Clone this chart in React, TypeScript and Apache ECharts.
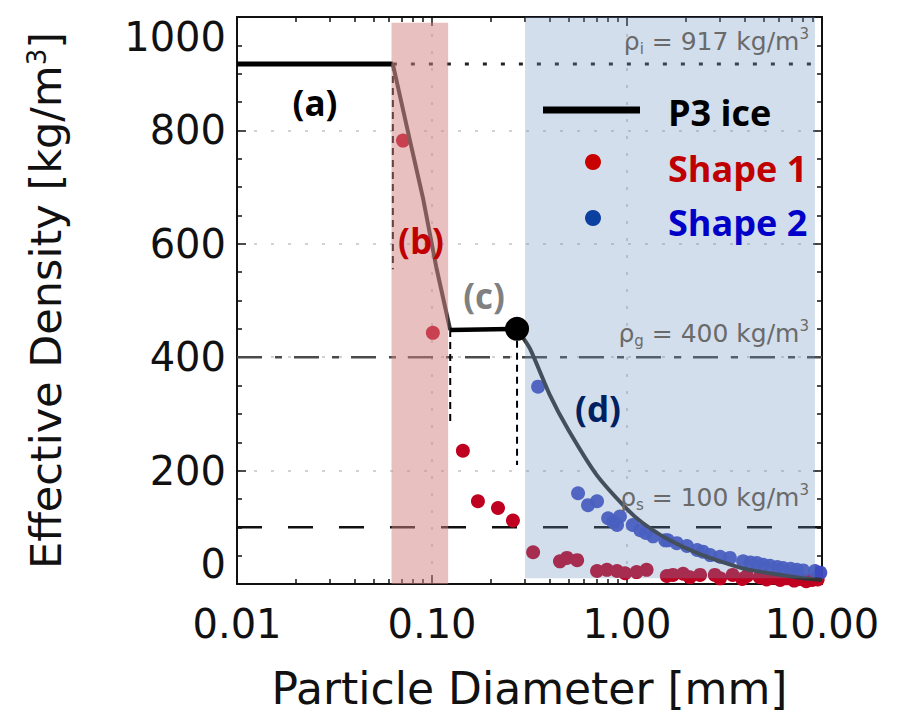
import React, { useEffect, useRef } from "react";
import * as echarts from "echarts";

// ---- Data ----
const xTickLabels = ["0.01", "0.10", "1.00", "10.00"];
const yTickValues = [0, 200, 400, 600, 800, 1000];

// P3 ice effective density, by regime
const p3RegimeA = [[0.01, 917], [0.063, 917]];
const p3RegimeB = [[0.063, 917], [0.075, 800], [0.09, 680], [0.105, 560], [0.124, 448]];
const p3RegimeC = [[0.124, 448], [0.273, 450]];
const p3RegimeD = [
  [0.273, 450], [0.318, 415], [0.4, 335], [0.5, 272], [0.7, 192], [1.0, 132],
  [1.2, 108], [1.6, 80], [2.4, 52], [4.0, 27], [7.7, 11], [10, 7],
];
const regimeDot = [[0.273, 450]];

// Vertical dashed drop lines: [diameter, top density, bottom density]
const dropLines = [[0.063, 917, 555], [0.124, 448, 280], [0.273, 450, 210]];

// Reference densities
const rhoIce = 917;
const rhoGraupel = 400;
const rhoSnow = 100;

// Regime shading [xFrom, xTo, yFrom, yTo]
const pinkBand = [0.062, 0.121, 0, 990];
const blueBand = [0.3, 9.2, 10, 1000];

// Shape 1 (red) and Shape 2 (blue) points
const shape1 = [
  [0.071, 782], [0.101, 443], [0.144, 235], [0.172, 146], [0.218, 134], [0.26, 112],
  [0.33, 56], [0.453, 40], [0.492, 46], [0.555, 42], [0.702, 23], [0.789, 25],
  [0.889, 23], [0.977, 19], [1.12, 21], [1.26, 25], [1.6, 14], [1.72, 16], [1.94, 18],
  [2.1, 12], [2.37, 16], [2.82, 16], [3.0, 10], [3.48, 16], [3.9, 9], [4.12, 14],
  [4.79, 12], [5.2, 8], [5.6, 11], [6.1, 7], [6.6, 10], [7.2, 6], [7.71, 9],
  [8.3, 5], [8.9, 7], [9.5, 8],
];
const shape2 = [
  [0.35, 348], [0.561, 160], [0.631, 139], [0.702, 146], [0.8, 116], [0.85, 110],
  [0.889, 104], [0.92, 119], [1.07, 104], [1.17, 95], [1.25, 90], [1.36, 84],
  [1.57, 77], [1.62, 77], [1.8, 72], [2.03, 67], [2.29, 60], [2.45, 57], [2.67, 51],
  [3.0, 48], [3.37, 46], [3.94, 40], [4.3, 38], [4.64, 37], [5.0, 34], [5.41, 32],
  [5.9, 30], [6.31, 28], [6.9, 27], [7.44, 25], [8.0, 24], [9.2, 23], [9.8, 20],
];

const FONT = "DejaVu Sans";
const BOLD = "Open Sans";

export default function App() {
  const ref = useRef<HTMLDivElement>(null);

  useEffect(() => {
    document.body.style.margin = "0";
    const chart = echarts.init(ref.current!, null, { renderer: "svg" });

    const minorLog: number[] = [];
    [-2, -1, 0].forEach((d) => {
      for (let k = 2; k <= 9; k++) minorLog.push(d + Math.log10(k));
    });

    const axisLineStyle = { color: "#111", width: 2 };
    const tickStyle = { color: "#111", width: 1.5 };
    const gridStyle = { color: "#c4c4c4", width: 1.5, type: [3, 14] as any };

    const bandSeries = (band: number[], fill: string) => ({
      type: "custom",
      z: 10,
      silent: true,
      xAxisIndex: 0,
      yAxisIndex: 0,
      data: [band],
      encode: { x: [0, 1], y: [2, 3] },
      renderItem: (params: any, api: any) => {
        const p0 = api.coord([api.value(0), api.value(3)]);
        const p1 = api.coord([api.value(1), api.value(2)]);
        return {
          type: "rect",
          shape: { x: p0[0], y: p0[1], width: p1[0] - p0[0], height: p1[1] - p0[1] },
          style: { fill },
        };
      },
    });

    const lineSeries = (data: number[][], color: string, width: number, type: any, z = 3, smooth: any = false) => ({
      type: "line",
      data,
      symbol: "none",
      smooth,
      z,
      silent: true,
      xAxisIndex: 0,
      yAxisIndex: 0,
      lineStyle: { color, width, type, cap: "butt" },
    });

    const rich = {
      m: { fontFamily: FONT, fontSize: 25, fill: "#6a6a6a", lineHeight: 30 },
      s: { fontFamily: FONT, fontSize: 15, fill: "#6a6a6a", verticalAlign: "bottom", lineHeight: 14 },
      p: { fontFamily: FONT, fontSize: 15, fill: "#6a6a6a", verticalAlign: "top", lineHeight: 14 },
    };

    const option: any = {
      animation: false,
      grid: { left: 237, right: 80, top: 17, bottom: 129, containLabel: false },
      xAxis: [
        {
          type: "log",
          logBase: 10,
          min: 0.01,
          max: 10,
          position: "bottom",
          axisLine: { show: true, onZero: false, lineStyle: axisLineStyle },
          axisTick: { show: true, inside: true, length: 9, lineStyle: tickStyle },
          axisLabel: {
            show: true,
            margin: 20,
            fontFamily: FONT,
            fontSize: 40,
            color: "#111",
            formatter: (v: number) => {
              const i = Math.round(Math.log10(v)) + 2;
              return xTickLabels[i] ?? Number(v).toFixed(2);
            },
          },
          splitLine: { show: true, lineStyle: gridStyle },
          name: "Particle Diameter [mm]",
          nameLocation: "middle",
          nameGap: 82,
          nameTextStyle: { fontFamily: FONT, fontSize: 44, color: "#111" },
        },
        {
          type: "log",
          logBase: 10,
          min: 0.01,
          max: 10,
          position: "top",
          axisLine: { show: true, onZero: false, lineStyle: axisLineStyle },
          axisTick: { show: true, inside: true, length: 9, lineStyle: tickStyle },
          axisLabel: { show: false },
          splitLine: { show: false },
        },
        {
          type: "value",
          min: -2,
          max: 1,
          position: "bottom",
          axisLine: { show: false, onZero: false },
          axisTick: { show: true, inside: true, length: 5, lineStyle: tickStyle, customValues: minorLog },
          axisLabel: { show: false },
          splitLine: { show: false },
        },
        {
          type: "value",
          min: -2,
          max: 1,
          position: "top",
          axisLine: { show: false, onZero: false },
          axisTick: { show: true, inside: true, length: 5, lineStyle: tickStyle, customValues: minorLog },
          axisLabel: { show: false },
          splitLine: { show: false },
        },
      ],
      yAxis: [
        {
          type: "value",
          min: yTickValues[0],
          max: yTickValues[yTickValues.length - 1],
          interval: 200,
          position: "left",
          axisLine: { show: true, onZero: false, lineStyle: axisLineStyle },
          axisTick: { show: true, inside: true, length: 9, lineStyle: tickStyle },
          minorTick: { show: true, splitNumber: 4, length: 5, lineStyle: tickStyle },
          axisLabel: {
            margin: 11,
            fontFamily: FONT,
            fontSize: 40,
            color: "#111",
            formatter: (v: number) => String(v),
            verticalAlignMinLabel: "bottom",
            verticalAlignMaxLabel: "top",
          },
          splitLine: { show: true, lineStyle: gridStyle },
          name: "Effective Density [kg/m{sup|3}]",
          nameLocation: "middle",
          nameRotate: 90,
          nameGap: 170,
          nameTextStyle: {
            fontFamily: FONT,
            fontSize: 43,
            color: "#111",
            rich: {
              sup: { fontFamily: FONT, fontSize: 26, color: "#111", verticalAlign: "top", lineHeight: 43 },
            },
          },
        },
        {
          type: "value",
          min: 0,
          max: 1000,
          interval: 200,
          position: "right",
          axisLine: { show: true, onZero: false, lineStyle: axisLineStyle },
          axisTick: { show: true, inside: true, length: 9, lineStyle: tickStyle },
          minorTick: { show: true, splitNumber: 4, length: 5, lineStyle: tickStyle },
          axisLabel: { show: false },
          splitLine: { show: false },
        },
      ],
      series: [
        // reference density lines
        lineSeries([[p3RegimeA[1][0], rhoIce], [10, rhoIce]], "#222", 3, [4, 14], 3),
        lineSeries([[0.01, rhoGraupel], [10, rhoGraupel]], "#4a4a4a", 2.5, [25, 13, 7, 12], 3),
        lineSeries([[0.01, rhoSnow], [10, rhoSnow]], "#111", 2.5, [25, 26], 3),
        // drop lines
        ...dropLines.map((d) => lineSeries([[d[0], d[1]], [d[0], d[2]]], "#000", 2, [7, 5], 3)),
        // scatter
        {
          type: "scatter",
          name: "Shape 1",
          data: shape1,
          symbolSize: 14,
          z: 4,
          silent: true,
          itemStyle: { color: "#c00020", opacity: 1 },
        },
        {
          type: "scatter",
          name: "Shape 2",
          data: shape2,
          symbolSize: 14,
          z: 5,
          silent: true,
          itemStyle: { color: "#3d4bc0", opacity: 0.95 },
        },
        // P3 ice
        { ...lineSeries(p3RegimeA, "#000", 5, "solid", 6), name: "P3 ice" },
        lineSeries(p3RegimeB, "#333", 4, "solid", 6),
        lineSeries(p3RegimeC, "#000", 4.5, "solid", 6),
        lineSeries(p3RegimeD, "#333", 4, "solid", 6, 0.2),
        // shading
        bandSeries(pinkBand, "rgba(210,130,130,0.5)"),
        bandSeries(blueBand, "rgba(105,145,192,0.3)"),
        // regime transition dot
        {
          type: "scatter",
          data: regimeDot,
          symbolSize: 24,
          z: 12,
          silent: true,
          itemStyle: { color: "#000", opacity: 1 },
        },
      ],
      graphic: [
        // reference labels
        {
          type: "text", z: 100,
          style: { x: 809, y: 41, align: "right", verticalAlign: "middle", text: "{m|ρ}{s|i}{m| = 917 kg/m}{p|3}", rich },
        },
        {
          type: "text", z: 100,
          style: { x: 809, y: 333, align: "right", verticalAlign: "middle", text: "{m|ρ}{s|g}{m| = 400 kg/m}{p|3}", rich },
        },
        {
          type: "text", z: 100,
          style: { x: 809, y: 497, align: "right", verticalAlign: "middle", text: "{m|ρ}{s|s}{m| = 100 kg/m}{p|3}", rich },
        },
        // regime letters
        { type: "text", z: 100, style: { x: 315, y: 102, text: "(a)", align: "center", verticalAlign: "middle", font: `bold 35px "${BOLD}"`, fill: "#000" } },
        { type: "text", z: 100, style: { x: 421, y: 240, text: "(b)", align: "center", verticalAlign: "middle", font: `bold 35px "${BOLD}"`, fill: "#c00000" } },
        { type: "text", z: 100, style: { x: 484, y: 295, text: "(c)", align: "center", verticalAlign: "middle", font: `bold 35px "${BOLD}"`, fill: "#808080" } },
        { type: "text", z: 100, style: { x: 598, y: 408, text: "(d)", align: "center", verticalAlign: "middle", font: `bold 35px "${BOLD}"`, fill: "#002060" } },
        // legend
        { type: "line", z: 100, shape: { x1: 543, y1: 110, x2: 640, y2: 110 }, style: { stroke: "#000", lineWidth: 7 } },
        { type: "text", z: 100, style: { x: 668, y: 112, text: "P3 ice", align: "left", verticalAlign: "middle", font: `bold 36px "${BOLD}"`, fill: "#000" } },
        { type: "circle", z: 100, shape: { cx: 593, cy: 162, r: 8 }, style: { fill: "#c80000" } },
        { type: "text", z: 100, style: { x: 668, y: 168, text: "Shape 1", align: "left", verticalAlign: "middle", font: `bold 36px "${BOLD}"`, fill: "#c00000" } },
        { type: "circle", z: 100, shape: { cx: 593, cy: 218, r: 8 }, style: { fill: "#0b3fa0" } },
        { type: "text", z: 100, style: { x: 668, y: 222, text: "Shape 2", align: "left", verticalAlign: "middle", font: `bold 36px "${BOLD}"`, fill: "#0000c8" } },
      ],
    };

    chart.setOption(option);
    return () => chart.dispose();
  }, []);

  return <div ref={ref} style={{ width: 902, height: 715 }} />;
}
